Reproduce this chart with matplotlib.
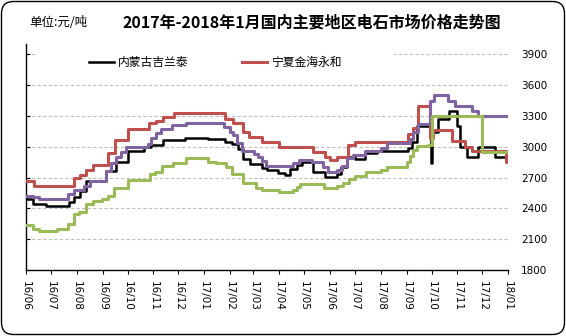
import matplotlib
matplotlib.use('Agg')
import matplotlib.pyplot as plt
import matplotlib.dates as mdates
from matplotlib.patches import FancyBboxPatch
import pandas as pd

cjk = ['Noto Sans CJK SC', 'DejaVu Sans']

title = '2017年-2018年1月国内主要地区电石市场价格走势图'
unit = '单位:元/吨'
name_jlt = '内蒙古吉兰泰'
name_jhyh = '宁夏金海永和'

# price change dates and prices (yuan/ton), each price holds until the next date
jlt_dates = ['2016-06-01', '2016-06-09', '2016-06-25', '2016-07-22', '2016-07-29', '2016-08-05',
             '2016-08-12', '2016-09-05', '2016-09-17', '2016-10-01', '2016-10-21', '2016-10-29',
             '2016-11-12', '2016-12-09', '2017-01-06', '2017-01-26', '2017-02-03', '2017-02-11',
             '2017-02-17', '2017-02-25', '2017-03-11', '2017-03-17', '2017-03-31', '2017-04-08',
             '2017-04-14', '2017-04-22', '2017-04-28', '2017-05-12', '2017-05-26', '2017-06-09',
             '2017-06-14', '2017-06-21', '2017-07-01', '2017-07-13', '2017-07-27', '2017-09-03',
             '2017-09-07', '2017-09-14', '2017-09-30', '2017-10-02', '2017-10-09', '2017-10-22',
             '2017-10-31', '2017-11-04', '2017-11-13', '2017-11-26', '2017-12-16', '2018-01-01']
jlt_price = [2490, 2445, 2420, 2460, 2510, 2570,
             2670, 2760, 2855, 2960, 2995, 3020,
             3070, 3090, 3080, 3050, 3025, 2975,
             2880, 2830, 2795, 2775, 2745, 2728,
             2780, 2822, 2848, 2755, 2705, 2738,
             2800, 2900, 2885, 2942, 2955, 2993,
             3050, 3200, 2845, 3145, 3270, 3350,
             3200, 3000, 2900, 2995, 2900, 2900]

jhyh_dates = ['2016-06-01', '2016-06-11', '2016-07-28', '2016-08-05', '2016-08-12', '2016-08-20',
              '2016-09-07', '2016-09-16', '2016-10-01', '2016-10-27', '2016-11-04', '2016-11-12',
              '2016-11-26', '2017-01-26', '2017-02-04', '2017-02-17', '2017-02-24', '2017-03-11',
              '2017-04-01', '2017-05-12', '2017-05-26', '2017-06-01', '2017-06-09', '2017-06-23',
              '2017-07-01', '2017-09-03', '2017-09-09', '2017-09-15', '2017-09-29', '2017-10-03',
              '2017-10-26', '2017-11-10', '2017-11-19', '2017-12-29', '2018-01-01']
jhyh_price = [2670, 2620, 2700, 2730, 2770, 2820,
              2935, 3065, 3170, 3230, 3250, 3290,
              3325, 3270, 3227, 3145, 3100, 3045,
              3000, 2945, 2900, 2870, 2900, 3020,
              3050, 3120, 3180, 3400, 3090, 3160,
              3060, 3000, 2955, 2850, 2850]

purple_dates = ['2016-06-01', '2016-06-09', '2016-06-17', '2016-07-21', '2016-07-28', '2016-08-10',
                '2016-08-17', '2016-09-05', '2016-09-11', '2016-09-17', '2016-09-23', '2016-09-29',
                '2016-10-25', '2016-10-29', '2016-11-04', '2016-11-10', '2016-11-23', '2016-12-10',
                '2017-01-25', '2017-02-01', '2017-02-04', '2017-02-09', '2017-02-15', '2017-03-02',
                '2017-03-07', '2017-03-11', '2017-03-16', '2017-04-17', '2017-04-25', '2017-05-10',
                '2017-05-24', '2017-05-29', '2017-06-09', '2017-06-15', '2017-06-21', '2017-06-29',
                '2017-07-13', '2017-08-01', '2017-08-08', '2017-09-05', '2017-09-09', '2017-09-15',
                '2017-09-29', '2017-10-04', '2017-10-21', '2017-10-29', '2017-11-18', '2017-11-26',
                '2018-01-01']
purple_price = [2526, 2510, 2490, 2545, 2581, 2623,
                2665, 2768, 2839, 2897, 2945, 3000,
                3030, 3085, 3130, 3171, 3215, 3236,
                3195, 3142, 3110, 3035, 2960, 2929,
                2897, 2865, 2815, 2840, 2870, 2850,
                2800, 2751, 2774, 2816, 2890, 2918,
                2963, 2985, 3036, 3075, 3142, 3220,
                3450, 3500, 3450, 3400, 3350, 3300,
                3300]

green_dates = ['2016-06-01', '2016-06-09', '2016-06-17', '2016-07-08', '2016-07-21', '2016-07-28',
               '2016-08-04', '2016-08-12', '2016-08-20', '2016-08-31', '2016-09-07', '2016-09-15',
               '2016-10-01', '2016-10-28', '2016-11-03', '2016-11-11', '2016-11-25', '2016-12-10',
               '2017-01-06', '2017-01-15', '2017-01-27', '2017-02-03', '2017-02-17', '2017-03-04',
               '2017-03-11', '2017-04-01', '2017-04-17', '2017-04-22', '2017-04-26', '2017-05-25',
               '2017-06-09', '2017-06-17', '2017-06-24', '2017-07-01', '2017-07-14', '2017-08-01',
               '2017-08-08', '2017-09-01', '2017-09-05', '2017-09-09', '2017-09-13', '2017-09-27',
               '2017-10-01', '2017-12-01', '2018-01-01']
green_price = [2236, 2203, 2177, 2203, 2245, 2342,
               2365, 2445, 2477, 2494, 2526, 2600,
               2675, 2735, 2758, 2816, 2845, 2887,
               2855, 2839, 2803, 2738, 2652, 2603,
               2581, 2562, 2581, 2613, 2642, 2603,
               2623, 2650, 2690, 2719, 2756, 2771,
               2808, 2850, 2913, 2966, 3005, 3018,
               3300, 2950, 2950]

yticks = list(range(1800, 3901, 300))

fig = plt.figure(figsize=(5.66, 3.36), dpi=100)
ax = fig.add_axes([0.046, 0.196, 0.852, 0.673])

ax.step(pd.to_datetime(jlt_dates), jlt_price, where='post', color='black', lw=1.8, label=name_jlt, zorder=3)
ax.step(pd.to_datetime(jhyh_dates), jhyh_price, where='post', color='#C0504D', lw=2.2, label=name_jhyh, zorder=3)
ax.step(pd.to_datetime(purple_dates), purple_price, where='post', color='#8064A2', lw=2.2, zorder=3)
ax.step(pd.to_datetime(green_dates), green_price, where='post', color='#9BBB59', lw=2.2, zorder=3)

ax.set_xlim(pd.Timestamp('2016-06-01'), pd.Timestamp('2018-01-01'))
ax.set_ylim(1800, 4000)
ax.set_yticks(yticks)
ax.xaxis.set_major_locator(mdates.MonthLocator())
ax.xaxis.set_major_formatter(mdates.DateFormatter('%y/%m'))

ax.spines['top'].set_visible(False)
ax.spines['right'].set_visible(False)
ax.spines['left'].set_linewidth(1)
ax.spines['bottom'].set_linewidth(1)

ax.tick_params(axis='y', left=True, right=False, labelleft=False, labelright=True,
               direction='in', length=3, pad=9, labelsize=7.5)
ax.tick_params(axis='x', direction='out', length=3, pad=5, labelsize=7.5, labelrotation=270)
for lab in ax.get_xticklabels():
    lab.set_va('top')

ax.yaxis.grid(True, color='#BFBFBF', linestyle=(0, (3, 2)), linewidth=0.8)
ax.set_axisbelow(True)

leg = ax.legend(loc='center left', bbox_to_anchor=(0.141, 0.815), bbox_transform=fig.transFigure,
                ncol=2, prop={'family': cjk, 'size': 8.5}, handlelength=2.1, handletextpad=0.3,
                columnspacing=4.6, borderpad=0.3, frameon=True, fancybox=False,
                facecolor='white', edgecolor='none', framealpha=1)
# widen the white legend box sideways so it hides the top gridline
leg.legendPatch.set_boxstyle('square', pad=4.2)
leg.legendPatch.set_mutation_aspect(0.12)

fig.text(0.551, 0.932, title, ha='center', va='center', fontsize=11.5, fontweight='bold', family=cjk)
fig.text(0.051, 0.932, unit, ha='left', va='center', fontsize=9, family=cjk)

border = FancyBboxPatch((0.015, 0.015), 5.63, 3.33, boxstyle='round,pad=0,rounding_size=0.12',
                        transform=fig.dpi_scale_trans, facecolor='none', edgecolor='black', lw=1)
fig.patches.append(border)

fig.savefig('out.png', dpi=100)
